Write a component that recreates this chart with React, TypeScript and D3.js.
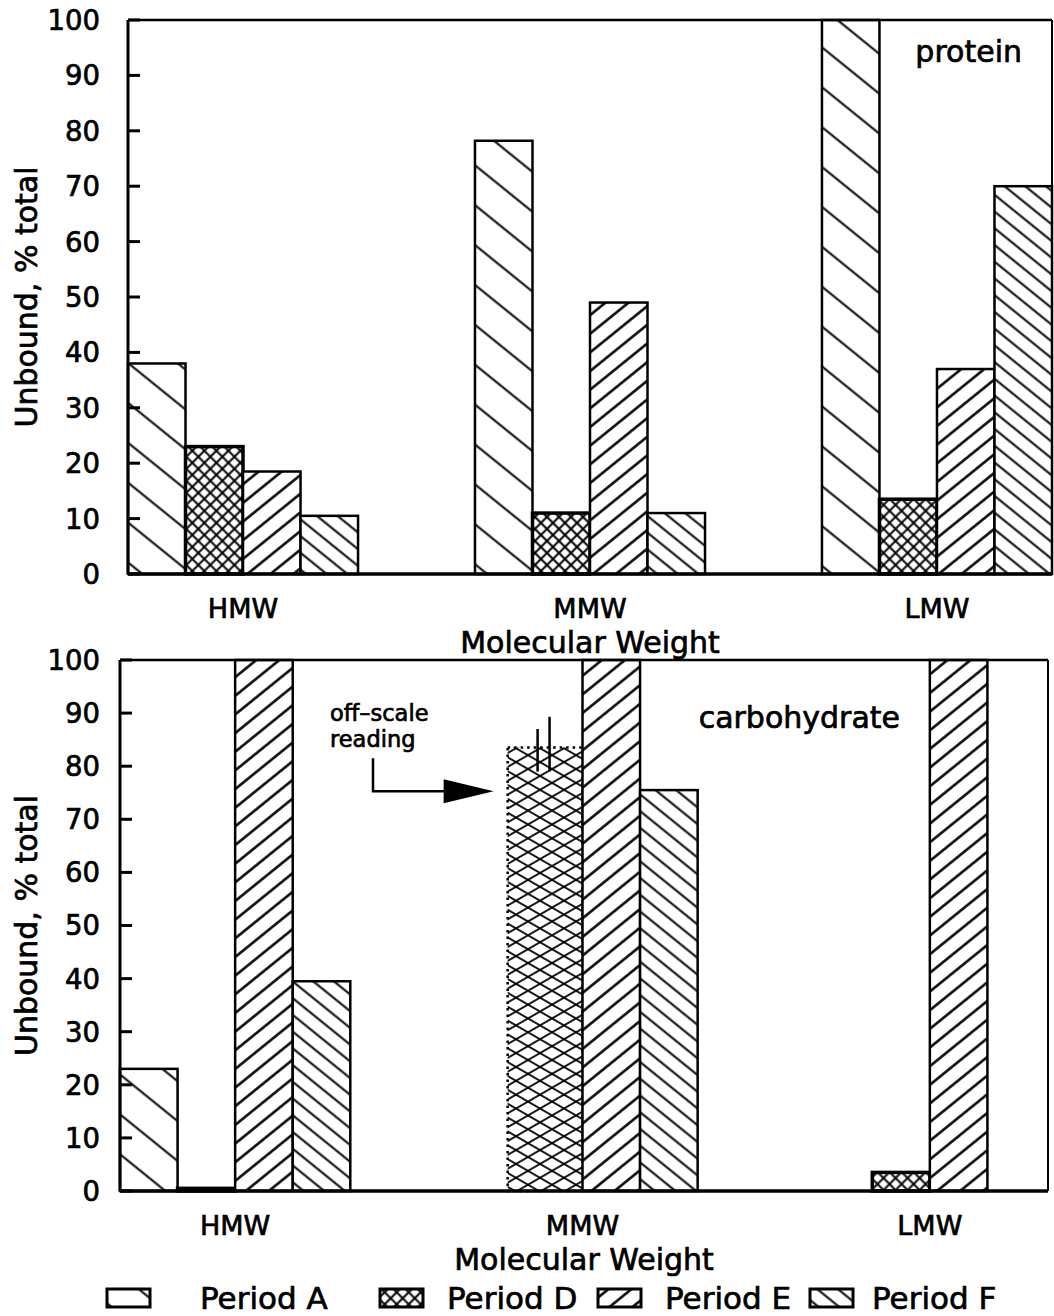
import React from "react";
import * as d3 from "d3";

const categories = ["HMW", "MMW", "LMW"];
const periods = ["A", "D", "E", "F"];
const periodLabels = ["Period A", "Period D", "Period E", "Period F"];
const yTicks = [0, 10, 20, 30, 40, 50, 60, 70, 80, 90, 100];

// protein panel values (% unbound), per period, per category
const proteinA = [38, 78.2, 100];
const proteinD = [23, 11, 13.5];
const proteinE = [18.5, 49, 37];
const proteinF = [10.5, 11, 70];

// carbohydrate panel values
const carbA = [23, 0, 0];
const carbD = [0.5, 83.5, 3.5];
const carbE = [100, 100, 100];
const carbF = [39.5, 75.5, 0];
// off-scale reading (carbohydrate, MMW, Period D)
const offScaleCategory = "MMW";
const offScaleMarks = [
  { frac: 0.4, from: 79, to: 87 },
  { frac: 0.56, from: 79, to: 89.3 },
];

const W = 1054;
const H = 1316;
const FONT = "'DejaVu Sans', sans-serif";
const TXT = { fontFamily: FONT, fill: "black", stroke: "black", strokeWidth: 0.7 } as const;

type Panel = {
  label: string;
  series: number[][];
  x0: number;
  x1: number;
  frameRight: number;
  y0: number;
  y1: number;
};

const panels: Panel[] = [
  { label: "protein", series: [proteinA, proteinD, proteinE, proteinF], x0: 128, x1: 1052, frameRight: 1052, y0: 20, y1: 574 },
  { label: "carbohydrate", series: [carbA, carbD, carbE, carbF], x0: 120, x1: 1045, frameRight: 1048, y0: 660, y1: 1191 },
];

const fills: Record<string, string> = {
  A: "url(#patA)",
  D: "url(#patD)",
  E: "url(#patE)",
  F: "url(#patF)",
};

function LinePattern({ id, spacing, angle, sw }: { id: string; spacing: number; angle: number; sw: number }) {
  return (
    <pattern id={id} width={spacing} height={spacing} patternUnits="userSpaceOnUse" patternTransform={`rotate(${angle})`}>
      <rect width={spacing} height={spacing} fill="white" />
      <line x1={-1} y1={spacing / 2} x2={spacing + 1} y2={spacing / 2} stroke="black" strokeWidth={sw} />
    </pattern>
  );
}

function PanelView({ p, idx }: { p: Panel; idx: number }) {
  const x = d3.scaleBand<string>().domain(categories).range([p.x0, p.x1]).paddingInner(0.337).paddingOuter(0);
  const xs = d3.scaleBand<string>().domain(periods).range([0, x.bandwidth()]).padding(0);
  const y = d3.scaleLinear().domain([0, 100]).range([p.y1, p.y0]);
  const cx = (p.x0 + p.frameRight) / 2;
  const midY = (p.y0 + p.y1) / 2;

  const bars: React.ReactNode[] = [];
  periods.forEach((per, si) => {
    p.series[si].forEach((v, ci) => {
      if (v <= 0) return;
      const cat = categories[ci];
      const isOff = idx === 1 && per === "D" && cat === offScaleCategory;
      let bx = (x(cat) as number) + (xs(per) as number);
      let bw = xs.bandwidth();
      if (isOff) {
        bx -= bw * 0.3;
        bw *= 1.3;
      }
      const by = y(v);
      const bh = y(0) - y(v);
      if (isOff) {
        bars.push(
          <g key={`${per}-${cat}`}>
            <rect x={bx} y={by} width={bw} height={bh} fill="url(#patOff1)" />
            <rect x={bx} y={by} width={bw} height={bh} fill="url(#patOff2)" />
            <rect x={bx} y={by} width={bw} height={bh} fill="none" stroke="black" strokeWidth={2.5} strokeDasharray="2.5,4" />
            {offScaleMarks.map((m, k) => (
              <line key={k} x1={bx + bw * m.frac} x2={bx + bw * m.frac} y1={y(m.to)} y2={y(m.from)} stroke="black" strokeWidth={2.5} />
            ))}
          </g>
        );
      } else {
        bars.push(
          <rect
            key={`${per}-${cat}`}
            x={bx}
            y={by}
            width={bw}
            height={bh}
            fill={fills[per]}
            stroke="black"
            strokeWidth={per === "D" ? 3.5 : 2.5}
          />
        );
      }
    });
  });

  // annotation arrow pointing at the off-scale bar
  let annot: React.ReactNode = null;
  if (idx === 1) {
    const offX = (x(offScaleCategory) as number) + (xs("D") as number) - xs.bandwidth() * 0.3;
    const ay = y(75.3);
    const ax = offX - 14;
    annot = (
      <g>
        <text x={330} y={y(88.6)} {...TXT} fontSize={22.5}>off–scale</text>
        <text x={330} y={y(83.6)} {...TXT} fontSize={22.5}>reading</text>
        <polyline points={`${373},${y(81.5)} ${373},${ay} ${ax - 45},${ay}`} fill="none" stroke="black" strokeWidth={2.5} />
        <polygon points={`${ax - 50},${ay - 12} ${ax},${ay} ${ax - 50},${ay + 12}`} fill="black" />
      </g>
    );
  }

  return (
    <g>
      {bars}
      {/* frame */}
      <line x1={p.x0} x2={p.frameRight} y1={p.y0} y2={p.y0} stroke="black" strokeWidth={2.5} />
      <line x1={p.frameRight} x2={p.frameRight} y1={p.y0} y2={p.y1} stroke="black" strokeWidth={2} />
      <line x1={p.x0} x2={p.frameRight} y1={p.y1} y2={p.y1} stroke="black" strokeWidth={3.5} />
      <line x1={p.x0} x2={p.x0} y1={p.y0} y2={p.y1} stroke="black" strokeWidth={3} />
      {yTicks.map((t) => (
        <g key={t}>
          <line x1={p.x0} x2={p.x0 + 12} y1={y(t)} y2={y(t)} stroke="black" strokeWidth={3} />
          <text x={100} y={y(t)} dy="0.36em" textAnchor="end" {...TXT} fontSize={27.5}>
            {t}
          </text>
        </g>
      ))}
      {categories.map((c) => (
        <text key={c} x={(x(c) as number) + x.bandwidth() / 2} y={p.y1 + 44} textAnchor="middle" {...TXT} fontSize={27}>
          {c}
        </text>
      ))}
      <text x={cx} y={p.y1 + 79} textAnchor="middle" {...TXT} fontSize={30}>
        Molecular Weight
      </text>
      <text transform={`translate(37,${midY}) rotate(-90)`} textAnchor="middle" {...TXT} fontSize={30}>
        Unbound, % total
      </text>
      <text
        x={idx === 0 ? 1022 : 900}
        y={idx === 0 ? y(92.4) : y(87.2)}
        textAnchor="end"
        {...TXT}
        fontSize={30}
      >
        {p.label}
      </text>
      {annot}
    </g>
  );
}

export default function App() {
  const legendSwatchX = [107, 380, 598, 810];
  const legendTextX = [200, 447, 665, 872];
  const ly = 1298;
  return (
    <svg width={W} height={H} viewBox={`0 0 ${W} ${H}`} style={{ display: "block", position: "absolute", left: 0, top: 0, background: "white" }}>
      <defs>
        <LinePattern id="patA" spacing={31} angle={39} sw={2} />
        <LinePattern id="patE" spacing={14.5} angle={-39} sw={2.5} />
        <LinePattern id="patF" spacing={13} angle={39} sw={2} />
        <pattern id="patD" width={8.5} height={8.5} patternUnits="userSpaceOnUse" patternTransform="rotate(45)">
          <rect width={8.5} height={8.5} fill="white" />
          <line x1={-1} y1={4.25} x2={9.5} y2={4.25} stroke="black" strokeWidth={2} />
          <line x1={4.25} y1={-1} x2={4.25} y2={9.5} stroke="black" strokeWidth={2} />
        </pattern>
        <pattern id="patOff1" width={12} height={12} patternUnits="userSpaceOnUse" patternTransform="rotate(30)">
          <rect width={12} height={12} fill="white" />
          <line x1={-1} y1={6} x2={13} y2={6} stroke="black" strokeWidth={1.8} />
        </pattern>
        <pattern id="patOff2" width={12} height={12} patternUnits="userSpaceOnUse" patternTransform="rotate(-30)">
          <line x1={-1} y1={6} x2={13} y2={6} stroke="black" strokeWidth={1.8} />
        </pattern>
      </defs>
      <rect width={W} height={H} fill="white" />
      {panels.map((p, i) => (
        <PanelView key={p.label} p={p} idx={i} />
      ))}
      {periods.map((per, i) => (
        <g key={per}>
          <rect x={legendSwatchX[i]} y={ly - 9} width={43} height={18} fill={fills[per]} stroke="black" strokeWidth={3} />
          <text x={legendTextX[i]} y={ly} dy="0.36em" {...TXT} fontSize={31}>
            {periodLabels[i]}
          </text>
        </g>
      ))}
    </svg>
  );
}
